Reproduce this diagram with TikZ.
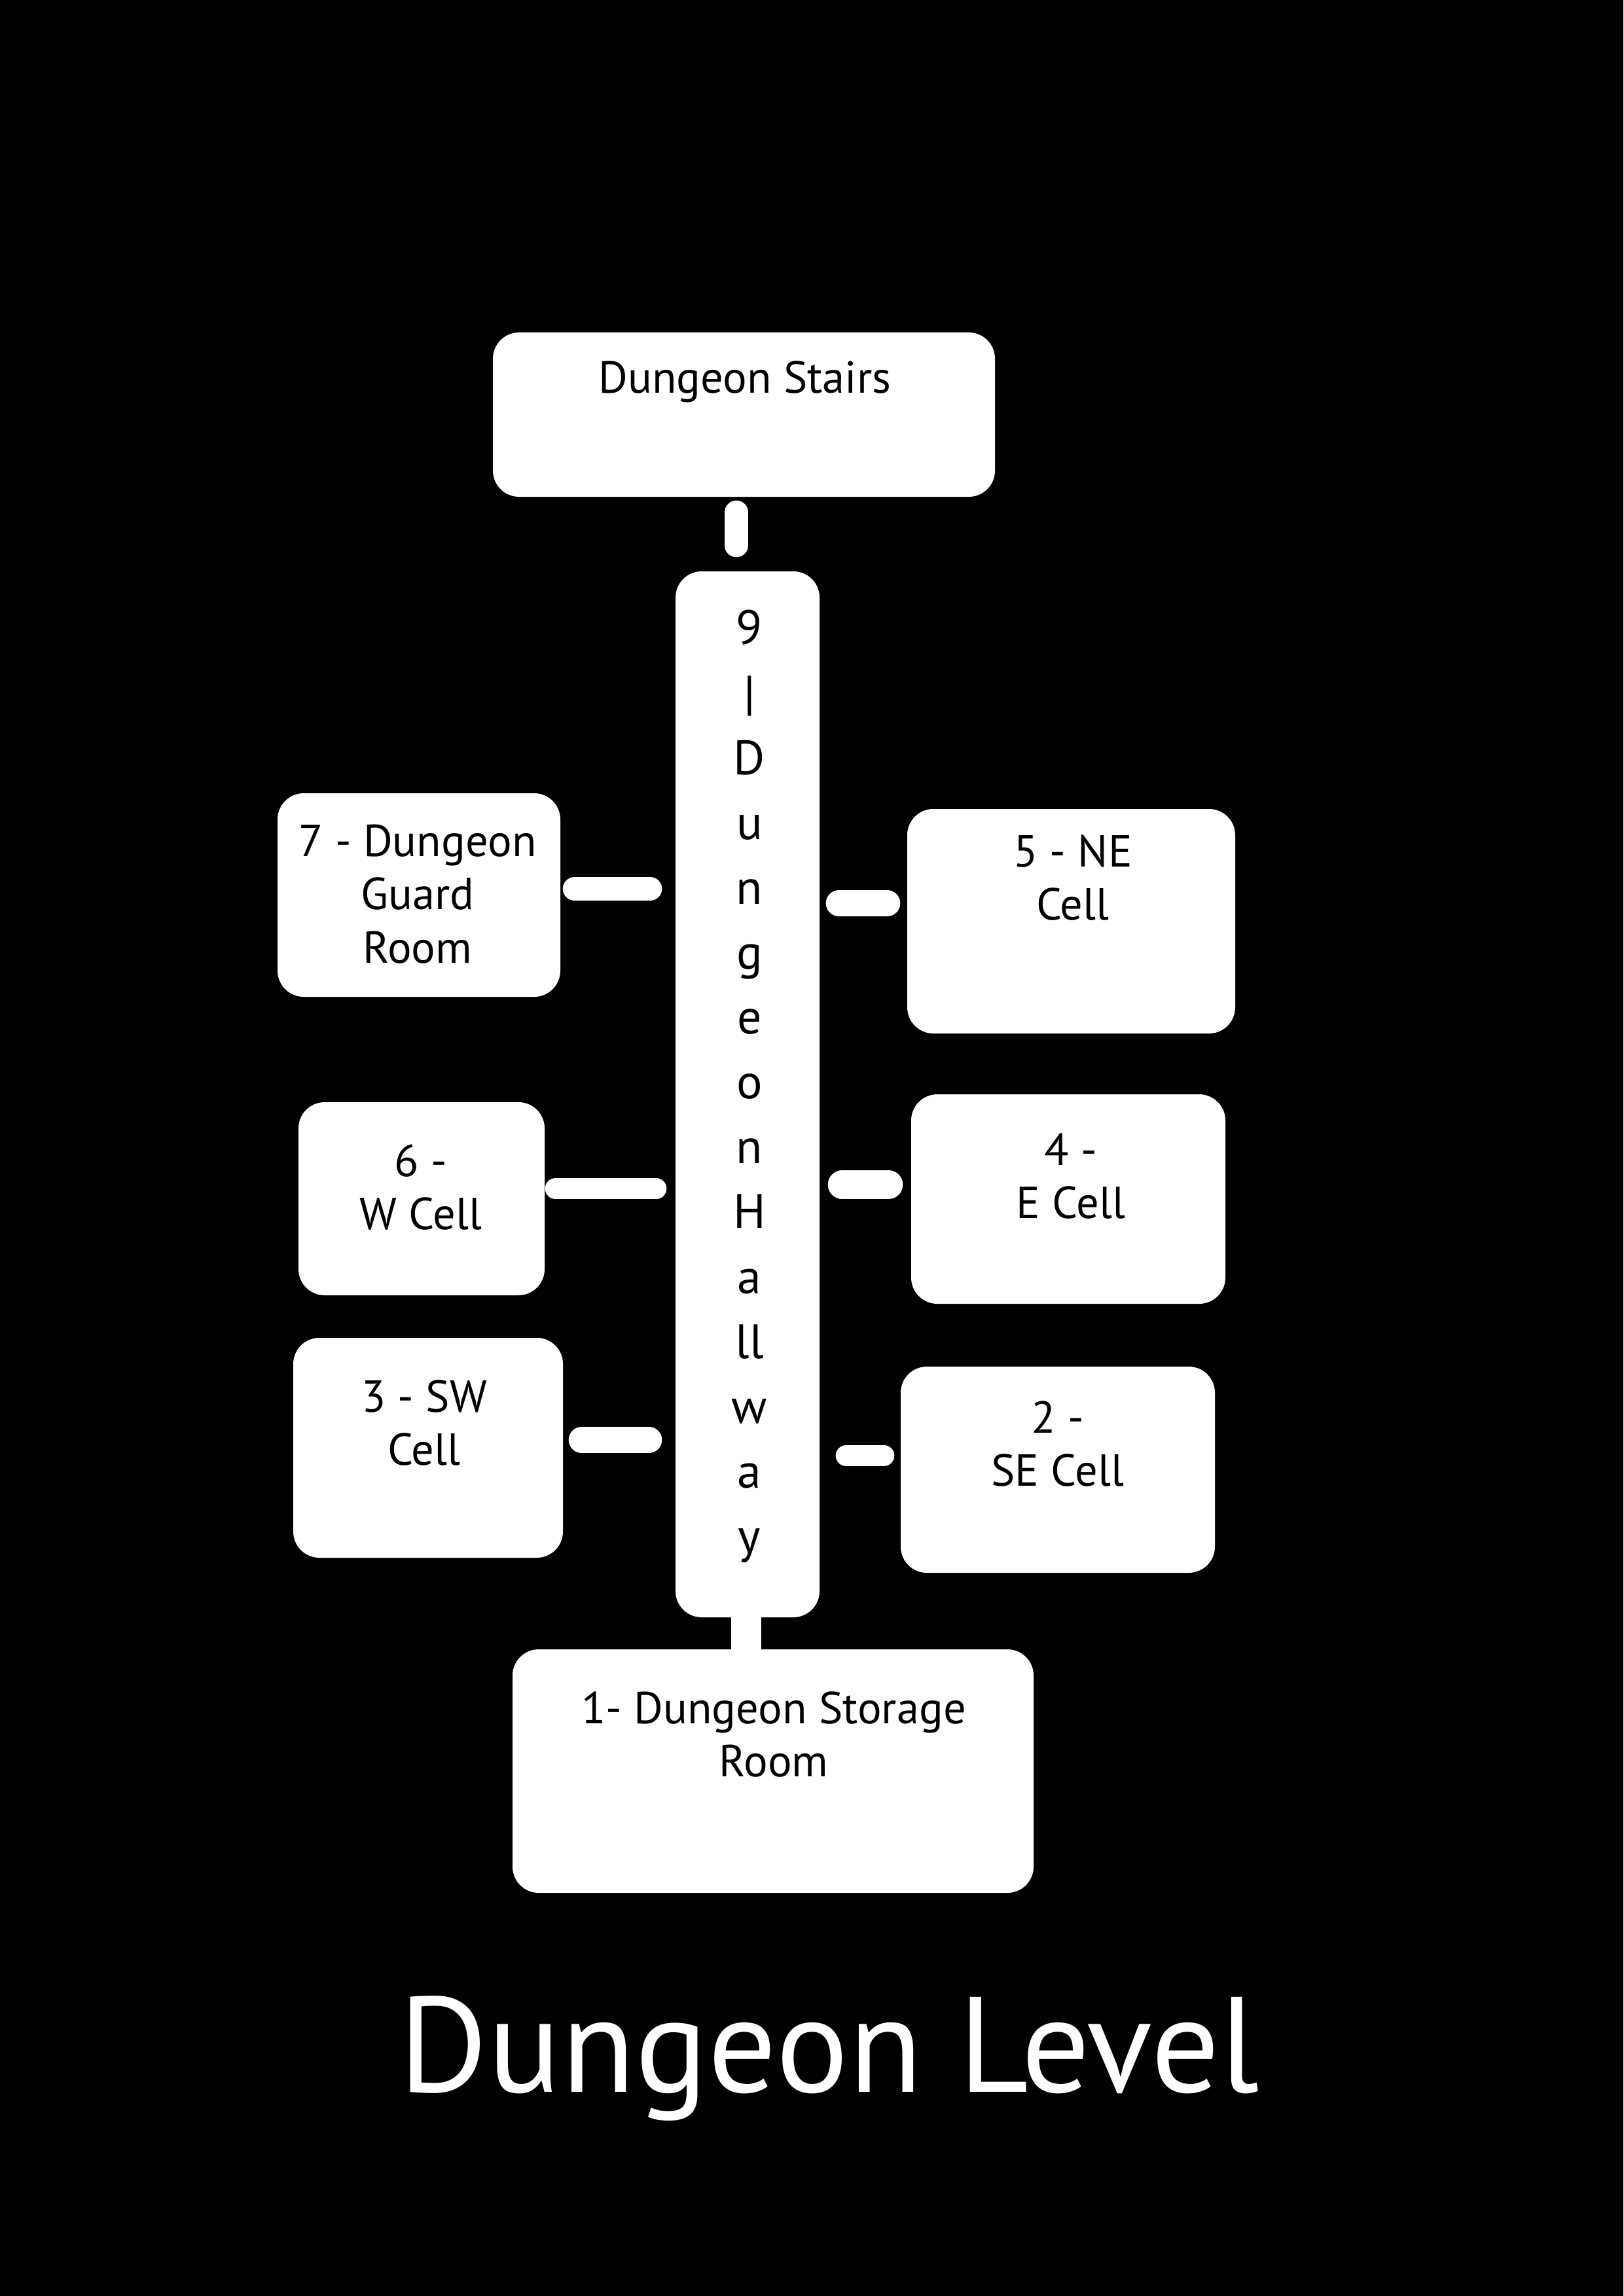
\documentclass[tikz,border=0pt]{standalone}
\usepackage{fontspec}
\setmainfont{PT Sans}

\begin{document}
\begin{tikzpicture}%
        [room/.style={fill=white, draw=none, rounded corners=0.4cm, inner sep=0pt},
        roomtext/.style={text=black, align=center, inner sep=0pt,
            font=\fontsize{19.5}{23.2}\selectfont},
        halltext/.style={text=black, align=center, inner sep=0pt,
            font=\fontsize{21}{28.2}\selectfont},
        link/.style={white, line cap=round}]
    %
    %% Background (fixes the page size)
    \fill[black] (0,0) rectangle (24.8,-35.08);
    %%
    %% Drawing the rooms
    \node[room, minimum width=7.67cm, minimum height=2.51cm] (stairs) at (11.365,-6.335) {};
    \node[room, minimum width=2.20cm, minimum height=15.98cm] (hall) at (11.42,-16.72) {};
    \node[room, minimum width=4.32cm, minimum height=3.11cm] (guard) at (6.40,-13.675) {};
    \node[room, minimum width=5.01cm, minimum height=3.43cm] (ne) at (16.365,-14.075) {};
    \node[room, minimum width=3.76cm, minimum height=2.95cm] (w) at (6.44,-18.315) {};
    \node[room, minimum width=4.80cm, minimum height=3.20cm] (e) at (16.32,-18.32) {};
    \node[room, minimum width=4.12cm, minimum height=3.36cm] (sw) at (6.54,-22.12) {};
    \node[room, minimum width=4.80cm, minimum height=3.15cm] (se) at (16.16,-22.455) {};
    \node[room, minimum width=7.96cm, minimum height=3.72cm] (storage) at (11.81,-27.06) {};
    %%
    %% Room names
    \node[roomtext] (stairs-t) at (11.38,-5.83) {Dungeon Stairs};
    \node[halltext] (hall-t) at (11.45,-16.60) {9\\|\\D\\u\\n\\g\\e\\o\\n\\H\\a\\ll\\w\\a\\y};
    \node[roomtext] (guard-t) at (6.38,-13.66) {7 - Dungeon\\Guard\\Room};
    \node[roomtext] (ne-t) at (16.39,-13.41) {5 - NE\\Cell};
    \node[roomtext] (w-t) at (6.43,-18.14) {6 -\\W Cell};
    \node[roomtext] (e-t) at (16.36,-17.97) {4 -\\E Cell};
    \node[roomtext] (sw-t) at (6.48,-21.74) {3 - SW\\Cell};
    \node[roomtext] (se-t) at (16.16,-22.06) {2 -\\SE Cell};
    \node[roomtext] (storage-t) at (11.82,-26.50) {1- Dungeon Storage\\Room};
    %%
    %% Drawing the doors
    \draw[link, line width=0.36cm, shorten <=0.23cm, shorten >=0.39cm]
        ([xshift=-0.115cm]stairs.south) -- ([xshift=-0.115cm]stairs.south |- hall.north);
    \draw[link, line width=0.36cm, shorten <=0.21cm, shorten >=0.38cm]
        ([yshift=0.095cm]guard.east) -- ([yshift=0.095cm]guard.east -| hall.west);
    \draw[link, line width=0.40cm, shorten <=0.29cm, shorten >=0.30cm]
        ([yshift=0.275cm]ne.west -| hall.east) -- ([yshift=0.275cm]ne.west);
    \draw[link, line width=0.32cm, shorten <=0.16cm, shorten >=0.29cm]
        ([yshift=0.155cm]w.east) -- ([yshift=0.155cm]w.east -| hall.west);
    \draw[link, line width=0.44cm, shorten <=0.34cm, shorten >=0.34cm]
        ([yshift=0.22cm]e.west -| hall.east) -- ([yshift=0.22cm]e.west);
    \draw[link, line width=0.40cm, shorten <=0.28cm, shorten >=0.40cm]
        ([yshift=0.12cm]sw.east) -- ([yshift=0.12cm]sw.east -| hall.west);
    \draw[link, line width=0.32cm, shorten <=0.40cm, shorten >=0.25cm]
        ([yshift=0.215cm]se.west -| hall.east) -- ([yshift=0.215cm]se.west);
    \draw[link, line width=0.46cm]
        ([xshift=-0.02cm]hall.south) -- ([xshift=-0.02cm]hall.south |- storage.north);
    %%
    %% Title
    \node[text=white, inner sep=0pt, font=\fontsize{59}{62}\selectfont] (title) at (12.67,-31.45) {Dungeon Level};
\end{tikzpicture}
\end{document}
